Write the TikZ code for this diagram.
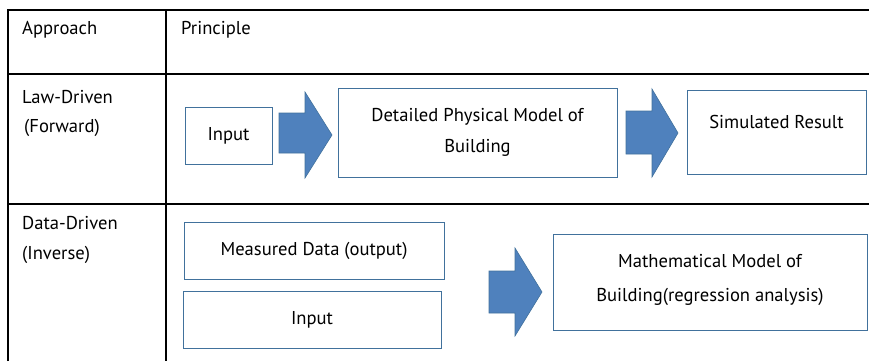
\documentclass[tikz,border=0pt]{standalone}
\usepackage{fontspec}
\setmainfont{PT Sans}
\definecolor{boxline}{HTML}{41719C}
\definecolor{arrowfill}{HTML}{4F81BD}
\tikzset{
  grid/.style={line width=1.6pt, black},
  box/.style={draw=boxline, line width=0.8pt, fill=white, inner sep=0pt},
  txt/.style={font=\fontsize{18.6}{31}\selectfont, inner sep=0pt, align=center},
  blockarrow/.style={fill=arrowfill, draw=boxline, line width=0.6pt},
}
\begin{document}
\begin{tikzpicture}[x=1pt,y=-1pt]
\useasboundingbox (0,0) rectangle (869,361);
% table rules
\draw[grid] (8,361) -- (8,10) -- (869,10);
\draw[grid] (166,10) -- (166,361);
\draw[grid] (8,74) -- (869,74);
\draw[grid] (8,204) -- (869,204);

% left column
\node[txt, anchor=west] (hA) at (22,30) {Approach};
\node[txt, anchor=west] (hP) at (181,30) {Principle};
\node[txt, anchor=west] (law1) at (22,97) {Law-Driven};
\node[txt, anchor=west] (law2) at (24,128) {(Forward)};
\node[txt, anchor=west] (dat1) at (22,223) {Data-Driven};
\node[txt, anchor=west] (dat2) at (22,255) {(Inverse)};

% law-driven row
\node[box, minimum width=87pt, minimum height=57pt] (in1) at (228.5,135.5) {};
\node[txt] at (in1) {Input};
\node[box, minimum width=279pt, minimum height=89pt] (phys) at (477.5,132.5) {};
\node[txt] at (phys) {Detailed Physical Model of\\Building};
\node[box, minimum width=179pt, minimum height=84pt] (sim) at (776.5,132) {};
\node[txt] at (776.5,122) {Simulated Result};

\draw[blockarrow] (279,113) -- (305,113) -- (305,92) -- (332,135) -- (305,178) -- (305,153) -- (279,153) -- cycle;
\draw[blockarrow] (626,111) -- (652,111) -- (652,89) -- (678,133) -- (652,177) -- (652,154) -- (626,154) -- cycle;

% data-driven row
\node[box, minimum width=260pt, minimum height=57pt] (meas) at (314,250.5) {};
\node[txt] at (meas) {Measured Data (output)};
\node[box, minimum width=258pt, minimum height=57pt] (in2) at (312,319.5) {};
\node[txt] at (in2) {Input};
\node[box, minimum width=314pt, minimum height=96pt] (math) at (710,282) {};
\node[txt, font=\fontsize{18.6}{34}\selectfont] at (710,280) {Mathematical Model of\\Building(regression analysis)};

\draw[blockarrow] (489,271) -- (515,271) -- (515,248) -- (542,292) -- (515,336) -- (515,313) -- (489,313) -- cycle;
\end{tikzpicture}
\end{document}
